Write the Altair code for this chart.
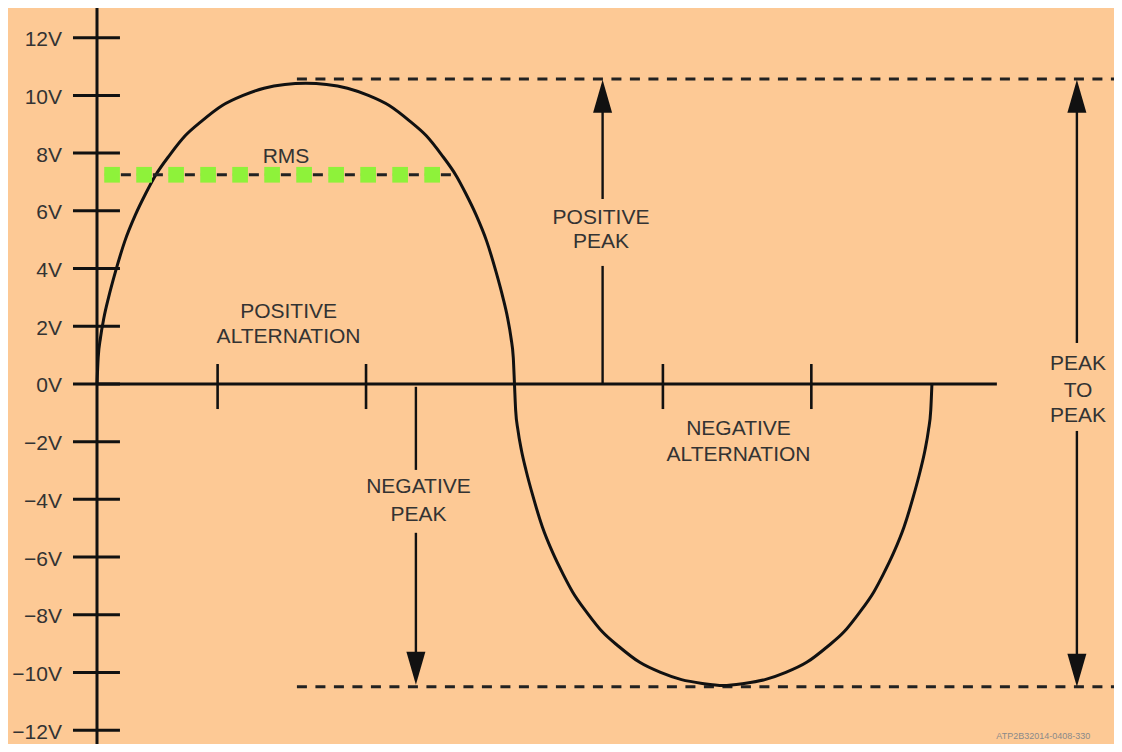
import altair as alt
import pandas as pd

# ---------------- data ----------------
# vertical scale (volts) and its labels
y_tick_values = [12, 10, 8, 6, 4, 2, 0, -2, -4, -6, -8, -10, -12]
y_tick_labels = ["12V", "10V", "8V", "6V", "4V", "2V", "0V",
                 "−2V", "−4V", "−6V", "−8V", "−10V", "−12V"]

# waveform: phase (degrees) and volts
wave_phase = [0, 0.5, 1.5, 3, 5, 8, 12, 16.5, 21, 25, 31.5, 38, 45, 54, 63, 72, 81, 90,
              99, 108, 117, 126, 135, 142, 148.5, 155, 159, 163.5, 168, 172, 175, 177, 178.5, 179.5, 180,
              180.5, 181.5, 183, 185, 188, 192, 196.5, 201, 205, 211.5, 218, 225, 234, 243, 252, 261, 270,
              279, 288, 297, 306, 315, 322, 328.5, 335, 339, 343.5, 348, 352, 355, 357, 358.5, 359.5, 360]
wave_volts = [0, 0.9, 1.6, 2.3, 3.0, 3.9, 4.95, 5.85, 6.6, 7.2, 7.95, 8.6, 9.1, 9.65, 10.0, 10.25, 10.38, 10.42,
              10.38, 10.25, 10.0, 9.65, 9.1, 8.6, 7.95, 7.2, 6.6, 5.85, 4.95, 3.9, 3.0, 2.3, 1.6, 0.9, 0,
              -0.9, -1.6, -2.3, -3.0, -3.9, -4.95, -5.85, -6.6, -7.2, -7.95, -8.6, -9.1, -9.65, -10.0, -10.25, -10.38, -10.45,
              -10.38, -10.25, -10.0, -9.65, -9.1, -8.6, -7.95, -7.2, -6.6, -5.85, -4.95, -3.9, -3.0, -2.3, -1.6, -0.9, 0]

x_domain = [0, 438.5]
y_domain = [-12.48, 13.03]

# time axis (zero line) and its tick marks
zero_line_end = 388
x_tick_phase = [52, 116, 244, 308]
x_tick_low, x_tick_high = -0.87, 0.69
y_tick_left, y_tick_right = -10.35, 9.9

# RMS level
rms_volts = 7.25
rms_line_start, rms_line_end = 3.4, 153
rms_marker_phase = [6.5, 20.3, 34.1, 47.9, 61.7, 75.5, 89.3, 103.1, 116.9, 130.7, 144.5]

# peak reference (dashed) lines
peak_levels = [10.57, -10.5]
peak_line_start = 86.2

# arrow shafts: phase, from volts, to volts
shaft_phase = [137.5, 137.5, 218, 218, 422.5, 422.5]
shaft_from = [-0.1, -5.16, 0.0, 6.41, 10.0, -1.63]
shaft_to = [-2.98, -10.0, 4.09, 10.0, 1.42, -10.0]

# arrow heads: phase, tip volts, direction
head_phase = [137.5, 218, 422.5, 422.5]
head_volts = [-10.43, 10.54, 10.54, -10.5]
head_dir = ["down", "up", "up", "down"]

# annotation texts (one row per line of text)
note_text = ["RMS", "POSITIVE", "ALTERNATION", "NEGATIVE", "PEAK",
             "POSITIVE", "PEAK", "NEGATIVE", "ALTERNATION", "PEAK", "TO", "PEAK"]
note_phase = [81.5, 82.6, 82.6, 138.6, 138.6, 217.3, 217.3, 276.6, 276.6, 423, 423, 423]
note_volts = [7.65, 2.29, 1.42, -3.78, -4.75, 5.55, 4.71, -1.77, -2.66, 0.49, -0.44, -1.31]

credit_text = ["ATP2B32014-0408-330"]
credit_phase = [408]
credit_volts = [-12.3]

# ---------------- styles ----------------
BG = "#FDC995"
INK = "#111111"
TEXT = "#333333"
GREEN = "#8EF23A"
FONT = "Liberation Sans"
UP = "M0,0L0.576,2L-0.576,2Z"
DOWN = "M0,0L0.576,-2L-0.576,-2Z"

xs = alt.Scale(domain=x_domain, nice=False, zero=False)
ys = alt.Scale(domain=y_domain, nice=False, zero=False)


def X(field):
    return alt.X(field, type="quantitative", scale=xs, axis=None)


def Y(field):
    return alt.Y(field, type="quantitative", scale=ys, axis=None)


def XD(v):
    return alt.XDatum(v, type="quantitative", scale=xs, axis=None)


def YD(v):
    return alt.YDatum(v, type="quantitative", scale=ys, axis=None)


wave_df = pd.DataFrame({"phase": wave_phase, "volts": wave_volts})
ytick_df = pd.DataFrame({"value": y_tick_values, "label": y_tick_labels})
xtick_df = pd.DataFrame({"phase": x_tick_phase})
rms_df = pd.DataFrame({"phase": rms_marker_phase})
peak_df = pd.DataFrame({"volts": peak_levels})
shaft_df = pd.DataFrame({"phase": shaft_phase, "v1": shaft_from, "v2": shaft_to})
head_df = pd.DataFrame({"phase": head_phase, "volts": head_volts, "dir": head_dir})
note_df = pd.DataFrame({"phase": note_phase, "volts": note_volts, "text": note_text})
credit_df = pd.DataFrame({"phase": credit_phase, "volts": credit_volts, "text": credit_text})
one_df = pd.DataFrame({"k": [0]})

# dashed peak lines
peak_lines = alt.Chart(peak_df).mark_rule(
    color="#222222", strokeWidth=3, strokeDash=[10, 8.5]
).encode(x=XD(peak_line_start), x2=alt.X2Datum(x_domain[1]), y=Y("volts"))

# vertical axis line
y_axis_line = alt.Chart(one_df).mark_rule(color=INK, strokeWidth=3).encode(
    x=XD(0), y=YD(y_domain[0]), y2=alt.Y2Datum(y_domain[1])
)

# vertical axis ticks (crossing the axis)
y_ticks = alt.Chart(ytick_df).mark_rule(color=INK, strokeWidth=3).encode(
    x=XD(y_tick_left), x2=alt.X2Datum(y_tick_right), y=Y("value")
)

y_labels = alt.Chart(ytick_df).mark_text(
    align="right", baseline="alphabetic", dx=-35, dy=8.5,
    font=FONT, fontSize=21, color=TEXT
).encode(x=XD(0), y=Y("value"), text="label:N")

# zero line and its ticks
zero_line = alt.Chart(one_df).mark_rule(color=INK, strokeWidth=3).encode(
    x=XD(0), x2=alt.X2Datum(zero_line_end), y=YD(0)
)
x_ticks = alt.Chart(xtick_df).mark_rule(color=INK, strokeWidth=2.6).encode(
    x=X("phase"), y=YD(x_tick_low), y2=alt.Y2Datum(x_tick_high)
)

# waveform
wave = alt.Chart(wave_df).mark_line(
    color=INK, strokeWidth=3, interpolate="monotone"
).encode(x=X("phase"), y=Y("volts"))

# RMS dashed line + green markers
rms_line = alt.Chart(one_df).mark_rule(
    color="#222222", strokeWidth=3, strokeDash=[10, 6]
).encode(x=XD(rms_line_start), x2=alt.X2Datum(rms_line_end), y=YD(rms_volts))

rms_marks = alt.Chart(rms_df).mark_square(
    size=246, color=GREEN, opacity=1, strokeWidth=0
).encode(x=X("phase"), y=YD(rms_volts))

# arrows
shafts = alt.Chart(shaft_df).mark_rule(color=INK, strokeWidth=2.4).encode(
    x=X("phase"), y=Y("v1"), y2="v2:Q"
)
heads = alt.Chart(head_df).mark_point(
    filled=True, opacity=1, size=1089, color=INK, strokeWidth=0
).encode(
    x=X("phase"), y=Y("volts"),
    shape=alt.Shape("dir:N", scale=alt.Scale(domain=["up", "down"], range=[UP, DOWN]), legend=None),
)

# annotation text
notes = alt.Chart(note_df).mark_text(
    align="center", baseline="alphabetic", font=FONT, fontSize=21, color=TEXT
).encode(x=X("phase"), y=Y("volts"), text="text:N")

credit = alt.Chart(credit_df).mark_text(
    align="center", baseline="alphabetic", font=FONT, fontSize=9, color="#8a8a8a"
).encode(x=X("phase"), y=Y("volts"), text="text:N")

chart = alt.layer(
    peak_lines, zero_line, x_ticks, y_axis_line, y_ticks, y_labels,
    wave, rms_line, rms_marks, shafts, heads, notes, credit
).properties(
    width=1017,
    height=736,
    autosize=alt.AutoSizeParams(type="none"),
    padding={"left": 89, "top": 0, "right": 0, "bottom": 0},
    background=BG,
).configure_view(stroke=None)

chart.save("out.html", embed_options={"renderer": "svg", "actions": False})
